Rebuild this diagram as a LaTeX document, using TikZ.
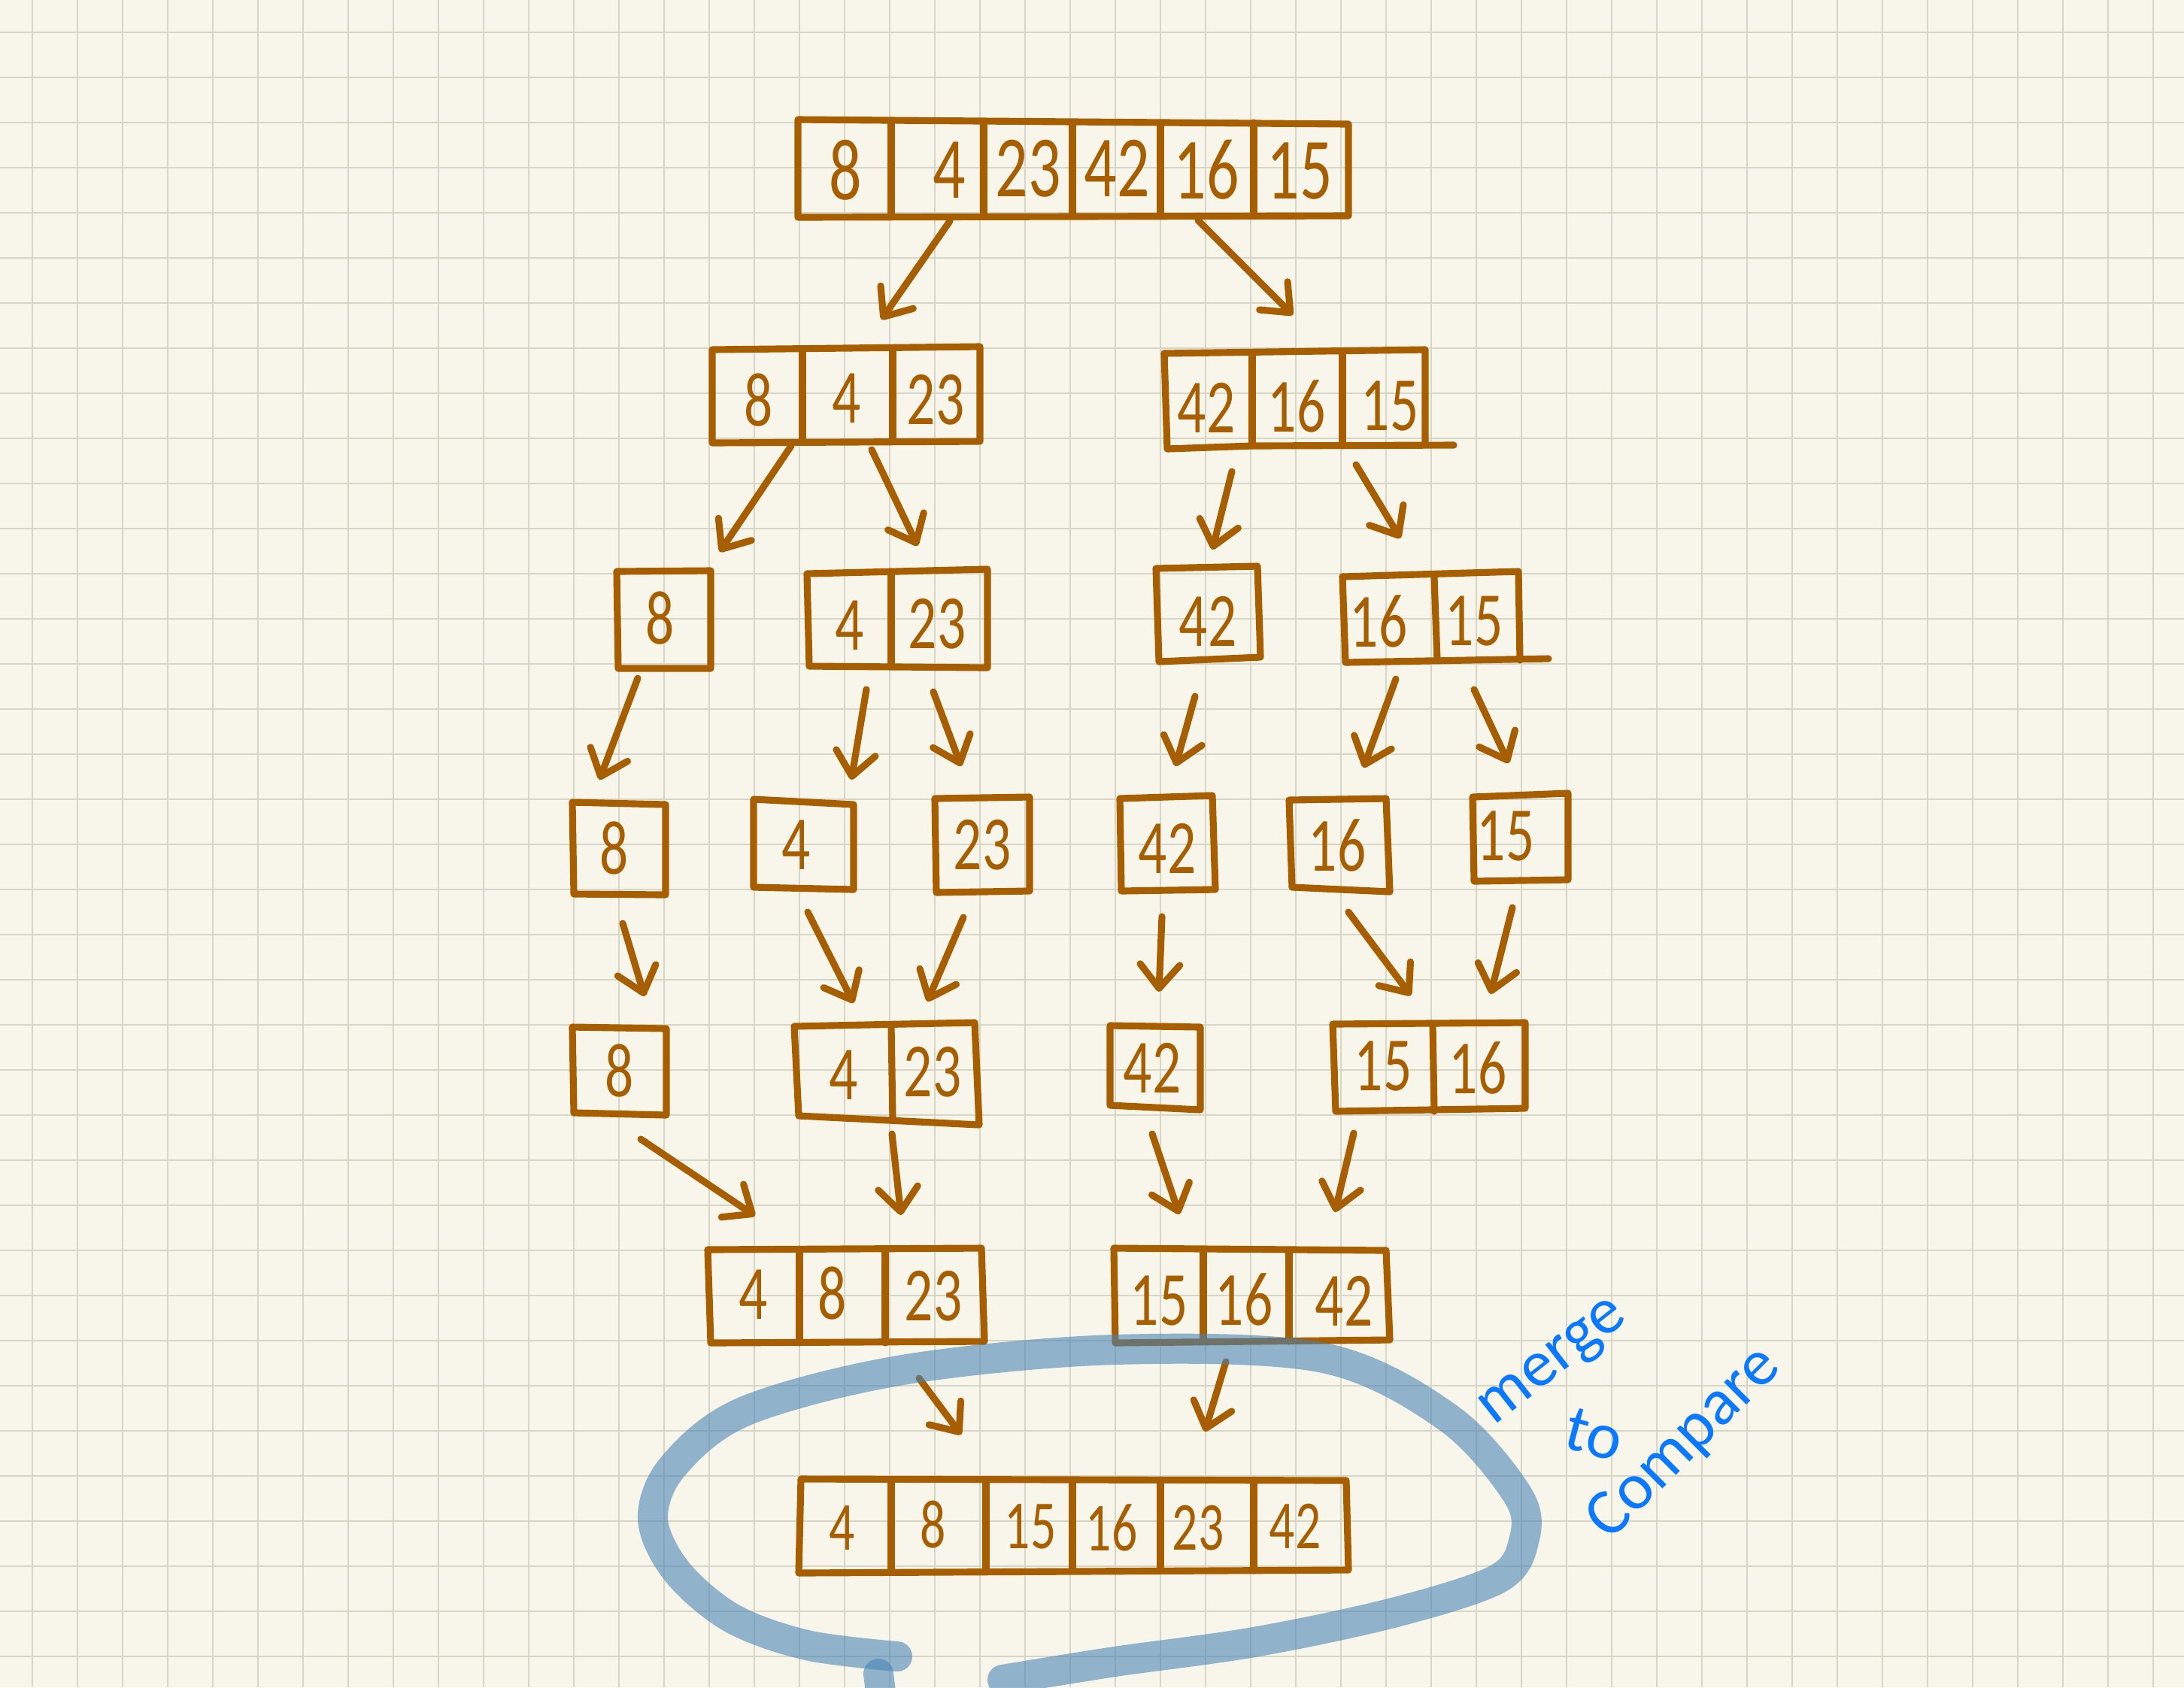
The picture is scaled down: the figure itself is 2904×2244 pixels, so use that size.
\documentclass[tikz,border=0pt]{standalone}
\usepackage{fontspec}
\setmainfont{Carlito}
\newfontfamily\digitfont{Carlito}[FakeStretch=0.74]
\usetikzlibrary{arrows.meta}
\definecolor{paper}{RGB}{248,246,234}
\definecolor{gridc}{RGB}{214,214,198}
\definecolor{ink}{RGB}{166,94,0}
\definecolor{hl}{RGB}{70,130,180}
\definecolor{pen}{RGB}{10,120,255}
\begin{document}
\begin{tikzpicture}[x=0.01cm,y=-0.01cm,
  gridline/.style={draw=gridc,line width=0.7pt},
  box/.style={draw=ink,line width=2.6pt,line cap=round,line join=round},
  num/.style={text=ink,inner sep=0pt,font=\digitfont\fontsize{29}{30}\selectfont},
  bignum/.style={num,font=\digitfont\fontsize{33}{36}\selectfont},
  smallnum/.style={num,font=\digitfont\fontsize{26}{28}\selectfont},
  arr/.style={draw=ink,line width=2.6pt,line cap=round,-{Straight Barb[length=9pt,width=15pt,round]}},
  marker/.style={draw=hl,opacity=0.58,line width=0.4cm,line cap=round,line join=round},
  note/.style={text=pen,inner sep=0pt,font=\fontsize{25}{26}\selectfont}
]
\useasboundingbox (0,0) rectangle (2904,2244);
\fill[paper] (0,0) rectangle (2904,2244);
\foreach \i in {0,...,47} \draw[gridline] ({43+60*\i},0) -- ({43+60*\i},2244);
\foreach \j in {0,...,36} \draw[gridline] (0,{43+60*\j}) -- (2904,{43+60*\j});

% ---------- row 1
\draw[box] (1061,159) -- (1793,165) -- (1793,287) -- (1061,289) -- cycle;
\foreach \d in {1185,1308,1426,1543,1667} \draw[box] (\d,163) -- (\d,287);
\node[bignum] (r1a) at (1124,226) {8};
\node[bignum] (r1b) at (1262,226) {4};
\node[bignum] (r1c) at (1367,224) {23};
\node[bignum] (r1d) at (1485,224) {42};
\node[bignum] (r1e) at (1604,226) {16};
\node[bignum] (r1f) at (1728,228) {15};

% ---------- row 2
\draw[box] (947,465) -- (1303,461) -- (1303,587) -- (947,589) -- cycle;
\foreach \d in {1067,1187} \draw[box] (\d,467) -- (\d,587);
\node[num] (r2a) at (1009,532) {8};
\node[num] (r2b) at (1126,530) {4};
\node[num] (r2c) at (1244,532) {23};

\draw[box] (1548,470) -- (1895,465) -- (1895,592);
\draw[box] (1548,470) -- (1552,597) -- (1665,593) -- (1933,592);
\foreach \d in {1665,1785} \draw[box] (\d,472) -- (\d,593);
\node[num] (r2d) at (1604,542) {42};
\node[num] (r2e) at (1724,540) {16};
\node[num] (r2f) at (1848,540) {15};

% ---------- row 3
\draw[box] (820,760) -- (945,759) -- (945,889) -- (822,889) -- cycle;
\node[num] (r3a) at (878,822) {8};
\draw[box] (1073,763) -- (1313,757) -- (1313,888) -- (1076,886) -- cycle;
\draw[box] (1185,760) -- (1185,886);
\node[num] (r3b) at (1130,832) {4};
\node[num] (r3c) at (1246,830) {23};
\draw[box] (1537,756) -- (1672,753) -- (1676,874) -- (1541,880) -- cycle;
\node[num] (r3d) at (1606,826) {42};
\draw[box] (1785,767) -- (2019,760) -- (2021,878);
\draw[box] (1785,767) -- (1789,881) -- (2059,876);
\draw[box] (1907,768) -- (1911,878);
\node[num] (r3e) at (1833,826) {16};
\node[num] (r3f) at (1960,826) {15};

% ---------- row 4
\draw[box] (761,1067) -- (885,1070) -- (885,1190) -- (763,1189) -- cycle;
\node[num] (r4a) at (817,1128) {8};
\draw[box] (1002,1063) -- (1135,1070) -- (1135,1183) -- (1002,1180) -- cycle;
\node[num] (r4b) at (1059,1124) {4};
\draw[box] (1243,1062) -- (1369,1060) -- (1369,1185) -- (1245,1187) -- cycle;
\node[num] (r4c) at (1306,1124) {23};
\draw[box] (1489,1062) -- (1612,1058) -- (1616,1183) -- (1491,1185) -- cycle;
\node[num] (r4d) at (1552,1128) {42};
\draw[box] (1714,1064) -- (1843,1062) -- (1848,1186) -- (1718,1180) -- cycle;
\node[num] (r4e) at (1778,1124) {16};
\draw[box] (1958,1060) -- (2085,1055) -- (2085,1170) -- (1960,1172) -- cycle;
\node[num] (r4f) at (2002,1112) {15};

% ---------- row 5
\draw[box] (761,1366) -- (886,1368) -- (886,1483) -- (763,1480) -- cycle;
\node[num] (r5a) at (824,1424) {8};
\draw[box] (1056,1365) -- (1296,1360) -- (1302,1496) -- (1062,1484) -- cycle;
\draw[box] (1185,1364) -- (1187,1490);
\node[num] (r5b) at (1122,1430) {4};
\node[num] (r5c) at (1240,1426) {23};
\draw[box] (1476,1364) -- (1596,1366) -- (1596,1476) -- (1476,1470) -- cycle;
\node[num] (r5d) at (1532,1420) {42};
\draw[box] (1772,1362) -- (2028,1360) -- (2028,1474) -- (1776,1478) -- cycle;
\draw[box] (1905,1364) -- (1907,1478);
\node[num] (r5e) at (1839,1418) {15};
\node[num] (r5f) at (1965,1420) {16};

% ---------- row 6
\draw[box] (941,1662) -- (1305,1660) -- (1309,1784) -- (945,1786) -- cycle;
\foreach \d in {1063,1177} \draw[box] (\d,1661) -- (\d,1786);
\node[num] (r6a) at (1002,1722) {4};
\node[num] (r6b) at (1107,1720) {8};
\node[num] (r6c) at (1241,1724) {23};
\draw[box] (1481,1660) -- (1843,1663) -- (1848,1782) -- (1483,1786) -- cycle;
\foreach \d in {1600,1714} \draw[box] (\d,1662) -- (\d,1784);
\node[num] (r6d) at (1541,1730) {15};
\node[num] (r6e) at (1654,1728) {16};
\node[num] (r6f) at (1787,1730) {42};

% ---------- row 7
\draw[box] (1065,1967) -- (1790,1969) -- (1793,2088) -- (1062,2092) -- cycle;
\foreach \d in {1185,1311,1426,1543,1667} \draw[box] (\d,1968) -- (\d,2089);
\node[smallnum] (r7a) at (1120,2032) {4};
\node[smallnum] (r7b) at (1241,2028) {8};
\node[smallnum] (r7c) at (1370,2030) {15};
\node[smallnum] (r7d) at (1478,2032) {16};
\node[smallnum] (r7e) at (1593,2032) {23};
\node[smallnum] (r7f) at (1722,2030) {42};

% ---------- arrow end points
\coordinate (a1s) at (1263,294);  \coordinate (a1e) at (1172,425);
\coordinate (a2s) at (1593,293);  \coordinate (a2e) at (1719,419);
\coordinate (a3s) at (1052,593);  \coordinate (a3e) at (957,734);
\coordinate (a4s) at (1159,598);  \coordinate (a4e) at (1220,726);
\coordinate (a5s) at (1638,627);  \coordinate (a5e) at (1612,731);
\coordinate (a6s) at (1803,618);  \coordinate (a6e) at (1862,716);
\coordinate (a7s) at (848,902);   \coordinate (a7e) at (797,1037);
\coordinate (a8s) at (1152,917);  \coordinate (a8e) at (1132,1037);
\coordinate (a9s) at (1241,920);  \coordinate (a9e) at (1278,1019);
\coordinate (a10s) at (1589,926); \coordinate (a10e) at (1563,1019);
\coordinate (a11s) at (1856,903); \coordinate (a11e) at (1813,1021);
\coordinate (a12s) at (1960,917); \coordinate (a12e) at (2006,1015);
\coordinate (a13s) at (828,1228); \coordinate (a13e) at (857,1325);
\coordinate (a14s) at (1074,1213); \coordinate (a14e) at (1135,1334);
\coordinate (a15s) at (1281,1220); \coordinate (a15e) at (1233,1332);
\coordinate (a16s) at (1545,1219); \coordinate (a16e) at (1541,1319);
\coordinate (a17s) at (1793,1213); \coordinate (a17e) at (1876,1324);
\coordinate (a18s) at (2011,1207); \coordinate (a18e) at (1982,1322);
\coordinate (a19s) at (852,1515); \coordinate (a19e) at (1004,1617);
\coordinate (a20s) at (1186,1508); \coordinate (a20e) at (1198,1616);
\coordinate (a21s) at (1532,1508); \coordinate (a21e) at (1568,1615);
\coordinate (a22s) at (1800,1507); \coordinate (a22e) at (1775,1612);
\coordinate (a23s) at (1222,1833); \coordinate (a23e) at (1278,1908);
\coordinate (a24s) at (1630,1811); \coordinate (a24e) at (1602,1904);
\foreach \k in {1,...,24} \draw[arr] (a\k s) -- (a\k e);

% ---------- blue marker loop
\begin{scope}
\clip (0,0) rectangle (2904,2244);
\draw[marker] plot[smooth,tension=0.55] coordinates {(1193,2203) (1073,2188) (973,2152) (900,2090) (868,2020) (895,1950) (990,1877) (1200,1822) (1482,1795) (1760,1806) (1926,1886) (2019,1990) (2026,2050) (1991,2100) (1852,2145) (1667,2184) (1482,2210) (1333,2234)};
\draw[marker] (1168,2226) -- (1176,2290);
\end{scope}

% ---------- handwritten note
\node[note,rotate=38] (merge) at (2068,1815) {merge};
\node[note,rotate=-15] (to) at (2120,1908) {to};
\node[note,rotate=45] (compare) at (2240,1920) {Compare};
\end{tikzpicture}
\end{document}
